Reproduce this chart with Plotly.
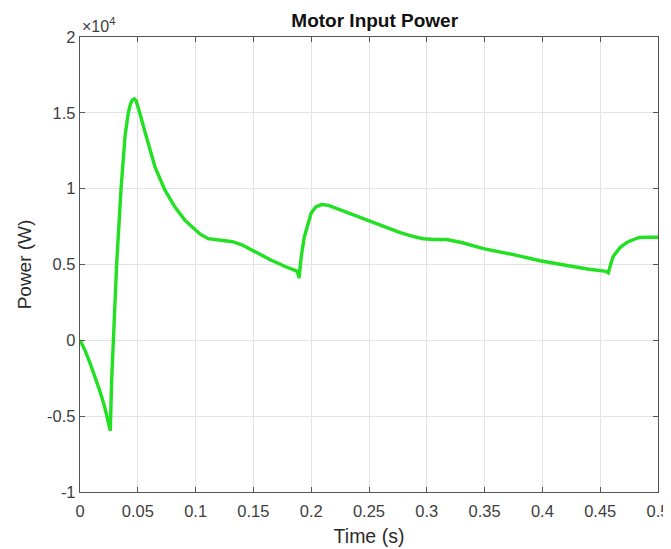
import plotly.graph_objects as go

# Time (s) and motor input power (W)
time_s = [0.0, 0.004, 0.0087, 0.013, 0.017, 0.021, 0.024, 0.0262, 0.0274, 0.0288,
          0.0317, 0.0355, 0.0390, 0.0418, 0.0435, 0.0452, 0.047, 0.0485, 0.050, 0.052,
          0.056, 0.065, 0.0735, 0.082, 0.091, 0.100, 0.104, 0.111, 0.121, 0.128,
          0.132, 0.140, 0.150, 0.165, 0.178, 0.188, 0.1895, 0.1915, 0.194, 0.197,
          0.200, 0.204, 0.209, 0.215, 0.222, 0.228, 0.240, 0.251, 0.265, 0.277,
          0.288, 0.297, 0.307, 0.317, 0.330, 0.349, 0.375, 0.398, 0.420, 0.439,
          0.455, 0.457, 0.459, 0.461, 0.467, 0.473, 0.479, 0.484, 0.490, 0.500]
power_w = [0, -600, -1500, -2400, -3300, -4300, -5200, -5950, -2600, 0,
           5000, 10000, 13500, 15000, 15550, 15850, 15920, 15800, 15450, 14900,
           13800, 11400, 9900, 8800, 7900, 7300, 7000, 6700, 6600, 6550,
           6500, 6300, 5900, 5300, 4850, 4550, 4100, 5600, 6800, 7700,
           8400, 8800, 8950, 8900, 8700, 8550, 8200, 7900, 7450, 7100,
           6850, 6700, 6650, 6650, 6450, 6050, 5650, 5250, 4950, 4700,
           4550, 4450, 5000, 5500, 6100, 6450, 6650, 6780, 6800, 6800]

y_tick_vals = [-10000, -5000, 0, 5000, 10000, 15000, 20000]
y_tick_text = ["-1", "-0.5", "0", "0.5", "1", "1.5", "2"]
x_tick_vals = [0, 0.05, 0.1, 0.15, 0.2, 0.25, 0.3, 0.35, 0.4, 0.45, 0.5]
x_tick_text = ["0", "0.05", "0.1", "0.15", "0.2", "0.25", "0.3", "0.35", "0.4", "0.45", "0.5"]

FONT = "Liberation Sans, Arial, sans-serif"

fig = go.Figure()
fig.add_trace(go.Scatter(x=time_s, y=power_w, mode="lines",
                         line=dict(color="rgb(34,224,34)", width=3.4),
                         showlegend=False))

axis_common = dict(showline=True, linecolor="#555555", linewidth=1.3, mirror="ticks",
                   ticks="inside", ticklen=5, tickcolor="#555555",
                   showgrid=True, gridcolor="#e3e3e3", gridwidth=1, zeroline=False,
                   automargin=False,
                   tickfont=dict(family=FONT, size=16.5, color="#404040"))

fig.update_layout(
    width=671, height=549,
    margin=dict(l=72, r=21, t=29, b=65),
    paper_bgcolor="white", plot_bgcolor="white",
    title=dict(text="<b>Motor Input Power</b>", x=0.5465, xanchor="center", y=0.9905, yanchor="top",
               font=dict(family=FONT, size=19, color="#111111")),
    xaxis=dict(range=[0, 0.5], tickvals=x_tick_vals, ticktext=x_tick_text,
               ticklabelstandoff=4,
               title=dict(text="Time (s)", standoff=10,
                          font=dict(family=FONT, size=19.5, color="#2a2a2a")),
               **axis_common),
    yaxis=dict(range=[-10000, 20000], tickvals=y_tick_vals, ticktext=y_tick_text,
               title=dict(text="Power (W)", standoff=10,
                          font=dict(family=FONT, size=19, color="#2a2a2a")),
               **axis_common),
)

fig.add_annotation(text="×10<sup>4</sup>", xref="paper", yref="paper", x=0.0, y=1.0,
                   xanchor="left", yanchor="bottom", showarrow=False, yshift=0,
                   font=dict(family=FONT, size=16, color="#404040"))

fig.write_html("out.html")
